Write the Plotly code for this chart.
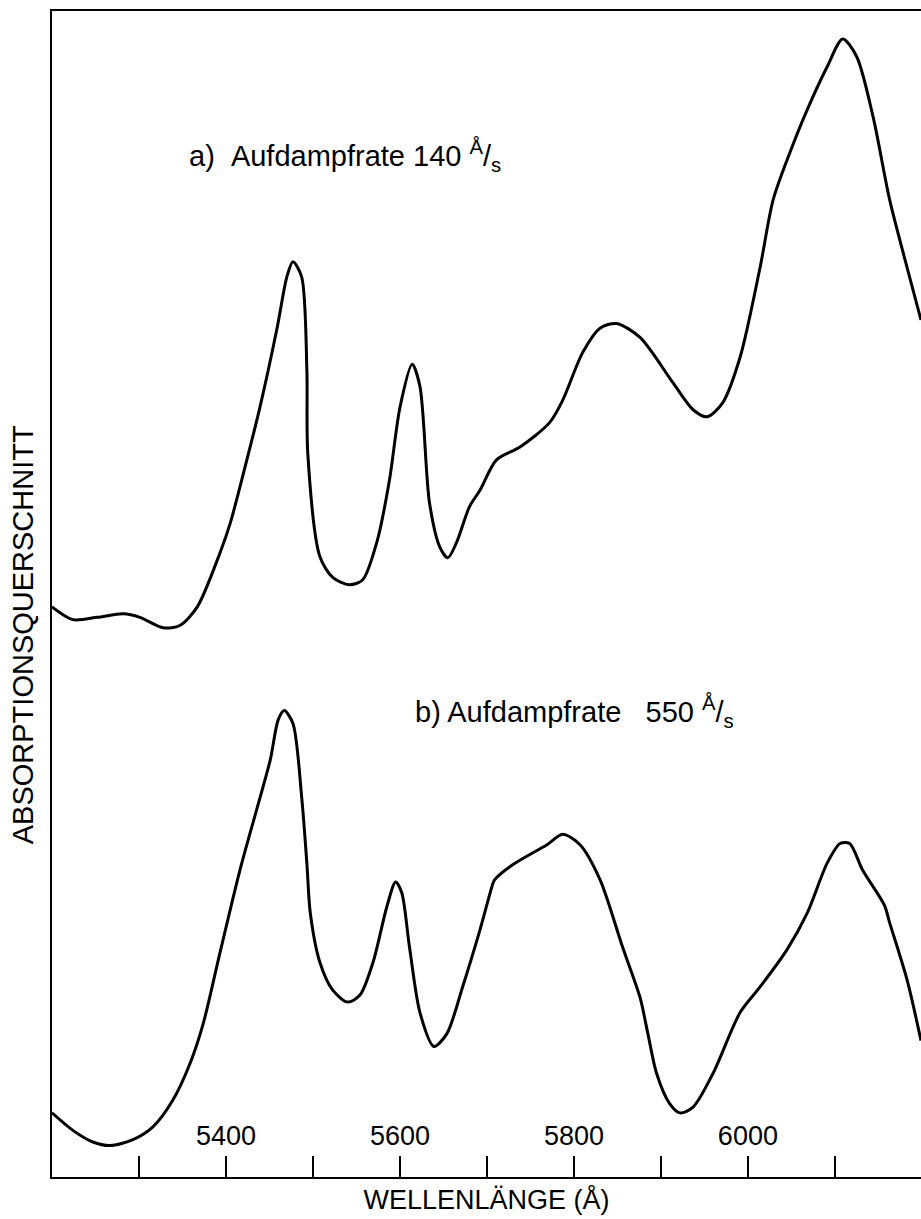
import plotly.graph_objects as go

# Wellenlänge in Å und Absorptionsquerschnitt (willkürliche Einheiten)
lam_a = [5200, 5224, 5252, 5282, 5301, 5328, 5347, 5367, 5393, 5405, 5424, 5439,
         5459, 5470, 5477, 5487, 5493, 5494, 5508, 5523, 5542, 5557, 5574, 5588,
         5600, 5614, 5623, 5634, 5646, 5655, 5665, 5680, 5692, 5711, 5738, 5772,
         5787, 5810, 5830, 5849, 5876, 5914, 5937, 5953, 5971, 5991, 6014, 6029,
         6048, 6068, 6091, 6109, 6125, 6144, 6163, 6183, 6199]
sig_a = [48.9, 47.8, 48.0, 48.3, 48.0, 47.1, 47.3, 48.9, 53.5, 56.1, 61.5, 66.0,
         72.9, 77.2, 78.5, 77.2, 69.2, 62.1, 53.2, 51.4, 50.8, 51.2, 54.6, 59.8,
         66.0, 69.7, 67.8, 57.8, 54.0, 53.1, 54.4, 57.5, 58.9, 61.5, 62.6, 64.7,
         66.6, 70.7, 72.8, 73.2, 72.0, 68.1, 65.8, 65.2, 66.4, 70.3, 78.0, 83.8,
         87.8, 91.5, 95.2, 97.6, 96.1, 90.9, 83.8, 78.0, 73.5]

lam_b = [5200, 5224, 5247, 5267, 5293, 5316, 5339, 5359, 5374, 5393, 5416, 5436,
         5451, 5460, 5467, 5477, 5487, 5493, 5497, 5508, 5523, 5540, 5554, 5569,
         5585, 5595, 5602, 5611, 5623, 5639, 5654, 5672, 5692, 5707, 5709, 5730,
         5769, 5787, 5807, 5830, 5856, 5876, 5885, 5895, 5910, 5922, 5937, 5960,
         5991, 6014, 6045, 6068, 6091, 6106, 6117, 6132, 6157, 6163, 6183, 6199]
sig_b = [5.5, 4.0, 3.0, 2.7, 3.2, 4.3, 6.6, 9.8, 13.2, 19.2, 26.3, 31.7,
         35.8, 39.2, 40.0, 38.9, 32.6, 26.9, 22.6, 18.4, 16.0, 15.0, 15.6, 18.4,
         23.2, 25.3, 24.4, 19.7, 14.1, 11.2, 12.3, 16.3, 21.2, 25.2, 25.5, 26.8,
         28.5, 29.4, 28.5, 25.5, 19.7, 15.4, 12.3, 8.9, 6.3, 5.5, 6.0, 8.9,
         14.1, 16.3, 19.5, 22.6, 26.9, 28.6, 28.6, 26.3, 23.3, 21.8, 16.9, 11.7]

major_ticks = [5400, 5600, 5800, 6000]
minor_ticks = [5300, 5500, 5700, 5900, 6100]

FONT = "Liberation Sans, Arial, sans-serif"
line_style = dict(color="black", width=3, shape="spline", smoothing=0.8)

fig = go.Figure()
fig.add_trace(go.Scatter(x=lam_a, y=sig_a, mode="lines", line=line_style,
                         showlegend=False, hoverinfo="skip"))
fig.add_trace(go.Scatter(x=lam_b, y=sig_b, mode="lines", line=line_style,
                         showlegend=False, hoverinfo="skip"))

fig.add_annotation(x=5355, y=87.6, xref="x", yref="y", xanchor="left", yanchor="middle",
                   text="a)\u00a0\u00a0Aufdampfrate 140 <sup>Å</sup>/<sub>s</sub>",
                   showarrow=False, font=dict(family=FONT, size=29, color="black"))
fig.add_annotation(x=5615, y=39.9, xref="x", yref="y", xanchor="left", yanchor="middle",
                   text="b) Aufdampfrate\u00a0\u00a0 550 <sup>Å</sup>/<sub>s</sub>",
                   showarrow=False, font=dict(family=FONT, size=29, color="black"))

# vertical axis caption, set a little below the plot centre
fig.add_annotation(x=-0.034, y=0.465, xref="paper", yref="paper",
                   xanchor="center", yanchor="middle", textangle=-90,
                   text="ABSORPTIONSQUERSCHNITT", showarrow=False,
                   font=dict(family=FONT, size=29, color="black"))

fig.update_xaxes(
    range=[5200, 6199], showgrid=False, zeroline=False,
    showline=True, linecolor="black", linewidth=2, mirror=True,
    tickmode="array", tickvals=major_ticks,
    ticks="inside", ticklen=21, tickwidth=2, tickcolor="black",
    ticklabelposition="inside", ticklabelstandoff=8,
    tickfont=dict(family=FONT, size=27, color="black"),
    minor=dict(tickvals=minor_ticks, ticks="inside", ticklen=21, tickwidth=2,
               tickcolor="black", showgrid=False),
    title=dict(text="WELLENLÄNGE (Å)", standoff=40,
               font=dict(family=FONT, size=27, color="black")),
)
fig.update_yaxes(
    range=[0, 100], showgrid=False, zeroline=False,
    showline=True, linecolor="black", linewidth=2,
    showticklabels=False, ticks="",
)

fig.update_layout(
    width=921, height=1219,
    margin=dict(l=52, r=0, t=11, b=42, autoexpand=False),
    paper_bgcolor="white", plot_bgcolor="white",
)

fig.write_html("out.html")
